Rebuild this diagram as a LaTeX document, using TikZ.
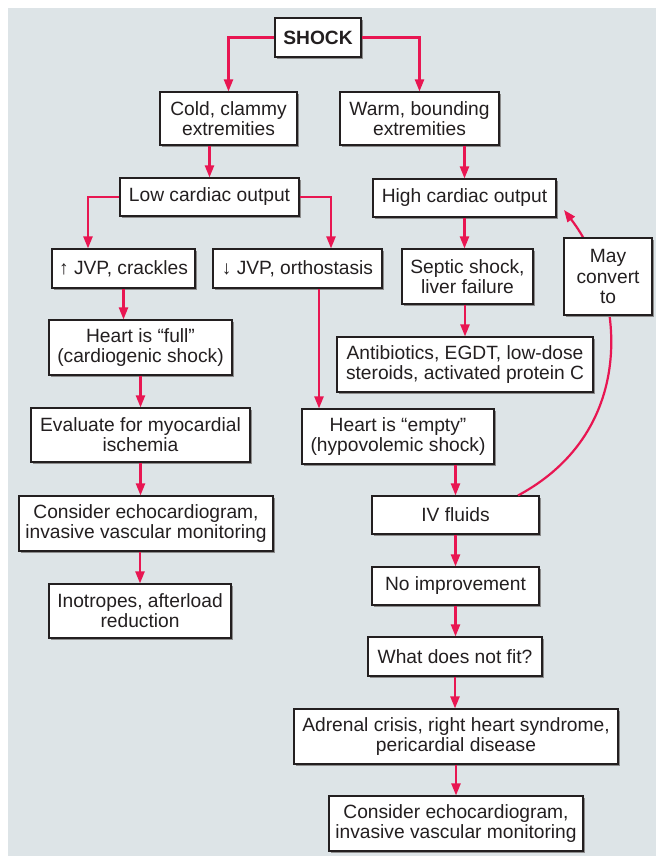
\documentclass[tikz,border=0pt]{standalone}
\usepackage{fontspec}
\setmainfont{Liberation Sans}
\usetikzlibrary{arrows.meta,shadows,calc}
\definecolor{bgcol}{RGB}{221,228,231}
\definecolor{arrcol}{RGB}{232,22,82}
\definecolor{txtcol}{RGB}{35,31,32}
\begin{document}
\begin{tikzpicture}[x=1pt,y=-1pt,
  box/.style={draw=txtcol, line width=1.1pt, fill=white, inner sep=0pt, align=center,
    text=txtcol, font=\fontsize{19.2}{20.2}\selectfont,
    drop shadow={shadow xshift=2.2pt, shadow yshift=-2.2pt, fill=black!45, opacity=1}},
  arr/.style={draw=arrcol, line width=2.2pt, -{Triangle[length=12pt,width=9pt]}}]
\useasboundingbox (0,0) rectangle (657,856);
\fill[bgcol] (8,8) rectangle (656,856);
% nodes: center x, center y, width, height
\node[box, minimum width=86pt, minimum height=39pt, font=\fontsize{19.2}{20.2}\selectfont\bfseries] (shock) at (318,37.5) {SHOCK};
\node[box, minimum width=137pt, minimum height=53pt] (cold) at (228.5,118.5) {Cold, clammy\\extremities};
\node[box, minimum width=159pt, minimum height=53pt] (warm) at (419.5,118.5) {Warm, bounding\\extremities};
\node[box, minimum width=179pt, minimum height=38pt] (low) at (209.5,197) {Low cardiac output};
\node[box, minimum width=183pt, minimum height=38pt] (high) at (464.5,198) {High cardiac output};
\node[box, minimum width=143pt, minimum height=39pt] (jvpup) at (123.5,268.5) {↑ JVP, crackles};
\node[box, minimum width=169pt, minimum height=39pt] (jvpdown) at (297.5,268.5) {↓ JVP, orthostasis};
\node[box, minimum width=131pt, minimum height=55pt] (septic) at (467.5,276.5) {Septic shock,\\liver failure};
\node[box, minimum width=183pt, minimum height=55pt] (full) at (140.5,347.5) {Heart is “full”\\(cardiogenic shock)};
\node[box, minimum width=256pt, minimum height=55pt] (anti) at (465,364.5) {Antibiotics, EGDT, low-dose\\steroids, activated protein C};
\node[box, minimum width=219pt, minimum height=54pt] (eval) at (140.5,435) {Evaluate for myocardial\\ischemia};
\node[box, minimum width=192pt, minimum height=55pt] (empty) at (398,436.5) {Heart is “empty”\\(hypovolemic shock)};
\node[box, minimum width=254pt, minimum height=55pt] (consL) at (146,523.5) {Consider echocardiogram,\\invasive vascular monitoring};
\node[box, minimum width=167pt, minimum height=38pt] (iv) at (455.5,515) {IV fluids};
\node[box, minimum width=167pt, minimum height=38pt] (noimp) at (455.5,586) {No improvement};
\node[box, minimum width=182pt, minimum height=54pt] (inot) at (140,611) {Inotropes, afterload\\reduction};
\node[box, minimum width=174pt, minimum height=39pt] (what) at (455,656.5) {What does not fit?};
\node[box, minimum width=324pt, minimum height=55pt] (adrenal) at (456,736.5) {Adrenal crisis, right heart syndrome,\\pericardial disease};
\node[box, minimum width=254pt, minimum height=55pt] (consR) at (456,823.5) {Consider echocardiogram,\\invasive vascular monitoring};
% connectors
\draw[arr] (shock.west) -| (cold.north);
\draw[arr] (shock.east) -| (warm.north);
\draw[arr] (cold.south -| low.north) -- (low.north);
\draw[arr] (warm.south -| high.north) -- (high.north);
\draw[arr] (low.west) -| ([xshift=-35.5pt]jvpup.north);
\draw[arr] (low.east) -| ([xshift=33.5pt]jvpdown.north);
\draw[arr] (jvpup.south) -- (jvpup.south |- full.north);
\draw[arr] (full.south) -- (full.south |- eval.north);
\draw[arr] (eval.south) -- (eval.south |- consL.north);
\draw[arr] (inot.north |- consL.south) -- (inot.north);
\draw[arr] ([xshift=21.5pt]jvpdown.south) -- ([xshift=21.5pt]jvpdown.south |- empty.north);
\draw[arr] (high.south) -- (high.south |- septic.north);
\draw[arr] (septic.south -| anti.north) -- (anti.north);
\draw[arr] (iv.north |- empty.south) -- (iv.north);
\draw[arr] (iv.south) -- (iv.south |- noimp.north);
\draw[arr] (noimp.south) -- (noimp.south |- what.north);
\draw[arr] (what.south) -- (what.south |- adrenal.north);
\draw[arr] (adrenal.south) -- (adrenal.south |- consR.north);
% curved connector behind "May convert to"
\coordinate (hcend) at (564,210);
\draw[arr] ([xshift=62.5pt]iv.north) .. controls (640,430) and (625,290) .. (hcend);
\node[box, minimum width=88pt, minimum height=77pt] (may) at (608,276.5) {May\\convert\\to};
\end{tikzpicture}
\end{document}
